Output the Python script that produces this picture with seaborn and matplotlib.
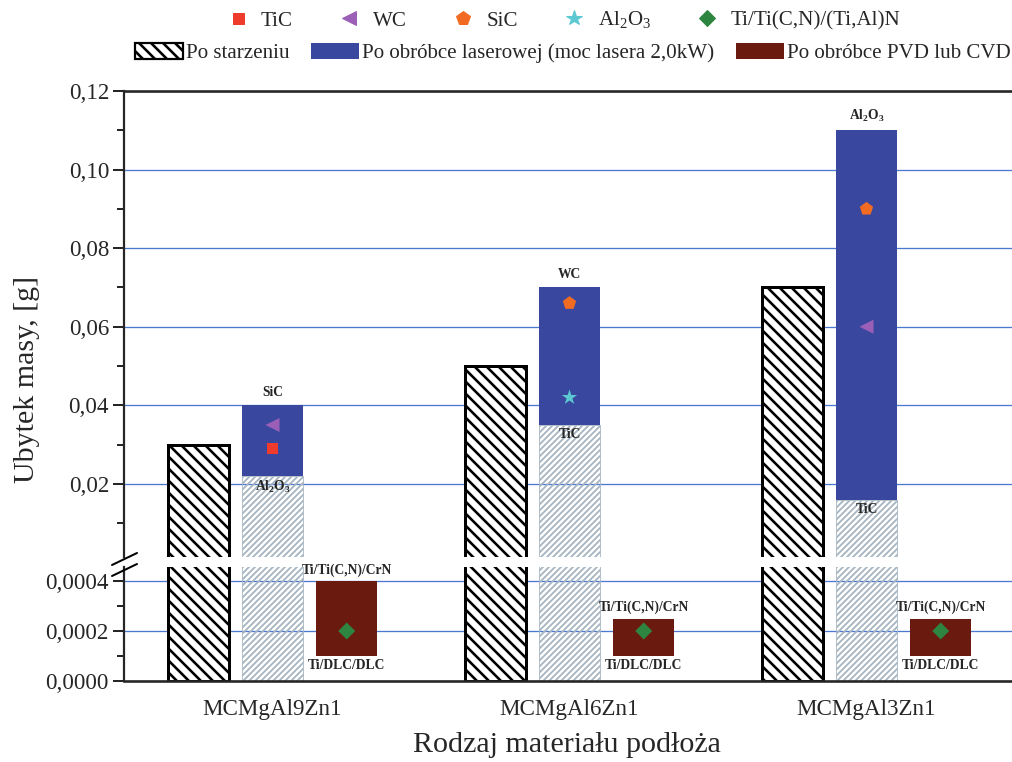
import numpy as np
import pandas as pd
import matplotlib
matplotlib.use("Agg")
import matplotlib.pyplot as plt
import seaborn as sns
from matplotlib.lines import Line2D
from matplotlib.patches import Patch
from matplotlib.ticker import FuncFormatter, FixedLocator

# ---------------- data ----------------
materials = ["MCMgAl9Zn1", "MCMgAl6Zn1", "MCMgAl3Zn1"]
series = ["Po starzeniu",
          "Po obróbce laserowej (moc lasera 2,0kW)",
          "Po obróbce PVD lub CVD"]

aged = [0.03, 0.05, 0.07]                 # after ageing
laser_low = [0.022, 0.035, 0.016]         # laser treatment, lower alloying powder
laser_high = [0.04, 0.07, 0.11]           # laser treatment, upper alloying powder
coat_low = [0.0001, 0.0001, 0.0001]       # PVD/CVD coatings, lower value
coat_high = [0.0004, 0.00025, 0.00025]    # PVD/CVD coatings, upper value

laser_top_labels = ["SiC", "WC", r"Al$_\mathbf{2}$O$_\mathbf{3}$"]
laser_bottom_labels = [r"Al$_\mathbf{2}$O$_\mathbf{3}$", "TiC", "TiC"]
coat_top_labels = ["Ti/Ti(C,N)/CrN", "Ti/Ti(C,N)/CrN", "Ti/Ti(C,N)/CrN"]
coat_bottom_labels = ["Ti/DLC/DLC", "Ti/DLC/DLC", "Ti/DLC/DLC"]

# points inside the laser bars (material index, mass loss)
tic_idx, tic_val = [0], [0.029]
wc_idx, wc_val = [0, 2], [0.035, 0.06]
sic_idx, sic_val = [1, 2], [0.066, 0.09]
al2o3_idx, al2o3_val = [1], [0.042]
# points inside the coating bars
tialn_idx, tialn_val = [0, 1, 2], [0.0002, 0.0002, 0.0002]

# ---------------- style ----------------
sns.set_style("white")
plt.rcParams["font.family"] = ["Liberation Serif", "DejaVu Serif"]
plt.rcParams["mathtext.fontset"] = "custom"
plt.rcParams["mathtext.rm"] = "Liberation Serif"
plt.rcParams["mathtext.bf"] = "Liberation Serif:bold"
plt.rcParams["mathtext.it"] = "Liberation Serif:italic"

BLUE = "#3A479F"
BROWN = "#6B1A10"
GRID = "#4A78D0"
LIGHT = "#A5B4C0"
c_tic, c_wc, c_sic, c_al, c_tialn = "#EE3B2B", "#9B5FB8", "#F26B22", "#5CC8D2", "#2E8540"

W, H, DPI = 1012, 762, 72
fig = plt.figure(figsize=(W / DPI, H / DPI), dpi=DPI)
left = 124 / W
ax_top = fig.add_axes([left, 1 - 557 / H, 1 - left, (557 - 91) / H])
ax_bot = fig.add_axes([left, 1 - 681 / H, 1 - left, (681 - 567) / H])


def draw_series(ax, values, name, low=None):
    """Bar series placed in its dodge slot; optional floating base."""
    heights = values if low is None else list(np.subtract(values, low))
    df = pd.DataFrame({"material": materials, "value": heights, "series": name})
    n0 = len(ax.patches)
    sns.barplot(data=df, x="material", y="value", hue="series", hue_order=series,
                order=materials, dodge=True, width=0.75, gap=0.18, errorbar=None,
                legend=False, ax=ax)
    new = ax.patches[n0:]
    if low is not None:
        for p, b in zip(new, low):
            p.set_y(b)
    return new


def style(patches, face, edge, lw, hatch=None, hatch_lw=1.0, z=2):
    for p in patches:
        p.set_facecolor(face)
        p.set_edgecolor(edge)
        p.set_linewidth(lw)
        p.set_zorder(z)
        if hatch:
            p.set_hatch(hatch)
            if hasattr(p, "set_hatch_linewidth"):
                p.set_hatch_linewidth(hatch_lw)


centers = {}
for ax in (ax_top, ax_bot):
    plt.rcParams["hatch.linewidth"] = 2.6
    pa = draw_series(ax, aged, series[0])
    style(pa, "white", "black", 3.0, "\\\\", 2.6)
    plt.rcParams["hatch.linewidth"] = 1.8
    pl = draw_series(ax, laser_low, series[1])
    style(pl, "none", LIGHT, 0.8, "////", 1.8)
    ph = draw_series(ax, laser_high, series[1], low=laser_low)
    style(ph, BLUE, "none", 0)
    pc = draw_series(ax, coat_high, series[2], low=coat_low)
    style(pc, BROWN, "none", 0)
    centers["laser"] = [p.get_x() + p.get_width() / 2 for p in ph]
    centers["coat"] = [p.get_x() + p.get_width() / 2 for p in pc]

    ax.set_axisbelow(True)
    ax.yaxis.grid(True, which="major", color=GRID, lw=1.3)
    ax.xaxis.grid(False)
    ax.spines["right"].set_visible(False)
    ax.tick_params(axis="y", which="major", direction="out", length=11, width=2,
                   left=True, labelsize=23, pad=4)
    ax.tick_params(axis="y", which="minor", direction="out", length=7, width=2, left=True)

# ---- markers ----
def pts(ax, key, idx, vals, marker, color, size):
    sns.scatterplot(x=[centers[key][i] for i in idx], y=vals, marker=marker, color=color,
                    s=size ** 2, edgecolor="none", linewidth=0, ax=ax, zorder=5, legend=False)

pts(ax_top, "laser", tic_idx, tic_val, "s", c_tic, 11)
pts(ax_top, "laser", wc_idx, wc_val, "<", c_wc, 14)
pts(ax_top, "laser", sic_idx, sic_val, "p", c_sic, 14)
pts(ax_top, "laser", al2o3_idx, al2o3_val, "*", c_al, 16)
pts(ax_bot, "coat", tialn_idx, tialn_val, "D", c_tialn, 12)

# ---- upper panel ----
ax_top.set_xlim(-0.5, 2.49)
ax_top.set_ylim(0.0014, 0.12)
ax_top.yaxis.set_major_locator(FixedLocator([0.02, 0.04, 0.06, 0.08, 0.10, 0.12]))
ax_top.yaxis.set_minor_locator(FixedLocator([0.01, 0.03, 0.05, 0.07, 0.09, 0.11]))
ax_top.yaxis.set_major_formatter(FuncFormatter(lambda v, _: f"{v:.2f}".replace(".", ",")))
ax_top.spines["bottom"].set_visible(False)
ax_top.spines["top"].set_linewidth(2.6)
ax_top.spines["left"].set_linewidth(2.2)
ax_top.tick_params(axis="x", bottom=False, labelbottom=False)
ax_top.set_xlabel("")
ax_top.set_ylabel("")

# ---- lower panel ----
ax_bot.set_xlim(-0.5, 2.49)
ax_bot.set_ylim(0, 0.000456)
ax_bot.yaxis.set_major_locator(FixedLocator([0.0, 0.0002, 0.0004]))
ax_bot.yaxis.set_minor_locator(FixedLocator([0.0001, 0.0003]))
ax_bot.yaxis.set_major_formatter(FuncFormatter(lambda v, _: f"{v:.4f}".replace(".", ",")))
ax_bot.spines["top"].set_visible(False)
ax_bot.spines["bottom"].set_linewidth(2.6)
ax_bot.spines["left"].set_linewidth(2.2)
ax_bot.tick_params(axis="x", bottom=False, labelsize=23, pad=14)
ax_bot.set_xlabel("")
ax_bot.set_ylabel("")

# ---- bar annotations ----
ann = dict(ha="center", fontsize=13.5, fontweight="bold", textcoords="offset points", zorder=6)
for i in range(3):
    ax_top.annotate(laser_top_labels[i], (centers["laser"][i], laser_high[i]),
                    xytext=(0, 6), va="bottom", **ann)
    ax_top.annotate(laser_bottom_labels[i], (centers["laser"][i], laser_low[i]),
                    xytext=(0, -3), va="top", **ann)
    ax_bot.annotate(coat_top_labels[i], (centers["coat"][i], coat_high[i]),
                    xytext=(0, 4), va="bottom", annotation_clip=False, **ann)
    ax_bot.annotate(coat_bottom_labels[i], (centers["coat"][i], coat_low[i]),
                    xytext=(0, -3), va="top", **ann)

# ---- axis titles ----
fig.text(27 / W, 1 - 379 / H, "Ubytek masy, [g]", rotation=90, ha="center", va="center",
         fontsize=30)
fig.text(0.5607, 1 - 745 / H, "Rodzaj materiału podłoża", ha="center", va="center",
         fontsize=30)

# ---- axis break marks ----
for y0 in (565, 576):
    fig.add_artist(Line2D([112 / W, 137 / W], [1 - y0 / H, 1 - (y0 - 12) / H],
                          color="black", lw=2, transform=fig.transFigure))

# ---- legends ----
marker_handles = [
    Line2D([], [], marker="s", color=c_tic, ls="none", markersize=11),
    Line2D([], [], marker="<", color=c_wc, ls="none", markersize=14),
    Line2D([], [], marker="p", color=c_sic, ls="none", markersize=14),
    Line2D([], [], marker="*", color=c_al, ls="none", markersize=16),
    Line2D([], [], marker="D", color=c_tialn, ls="none", markersize=11),
]
marker_labels = ["TiC", "WC", "SiC", "Al$_2$O$_3$", "Ti/Ti(C,N)/(Ti,Al)N"]
leg1 = fig.legend(marker_handles, marker_labels, loc="center", ncol=5,
                  bbox_to_anchor=(0.557, 1 - 20 / H), frameon=False, fontsize=21,
                  handlelength=1.0, handletextpad=0.6, columnspacing=2.2)

plt.rcParams["hatch.linewidth"] = 2.6
patch_handles = [
    Patch(facecolor="white", edgecolor="black", hatch="\\\\", linewidth=2.2),
    Patch(facecolor=BLUE, edgecolor="none"),
    Patch(facecolor=BROWN, edgecolor="none"),
]
leg2 = fig.legend(patch_handles, series, loc="center", ncol=3,
                  bbox_to_anchor=(0.566, 1 - 53 / H), frameon=False, fontsize=21,
                  handlelength=2.3, handleheight=0.8, handletextpad=0.15, columnspacing=1.0)

fig.savefig("out.png", dpi=DPI)
